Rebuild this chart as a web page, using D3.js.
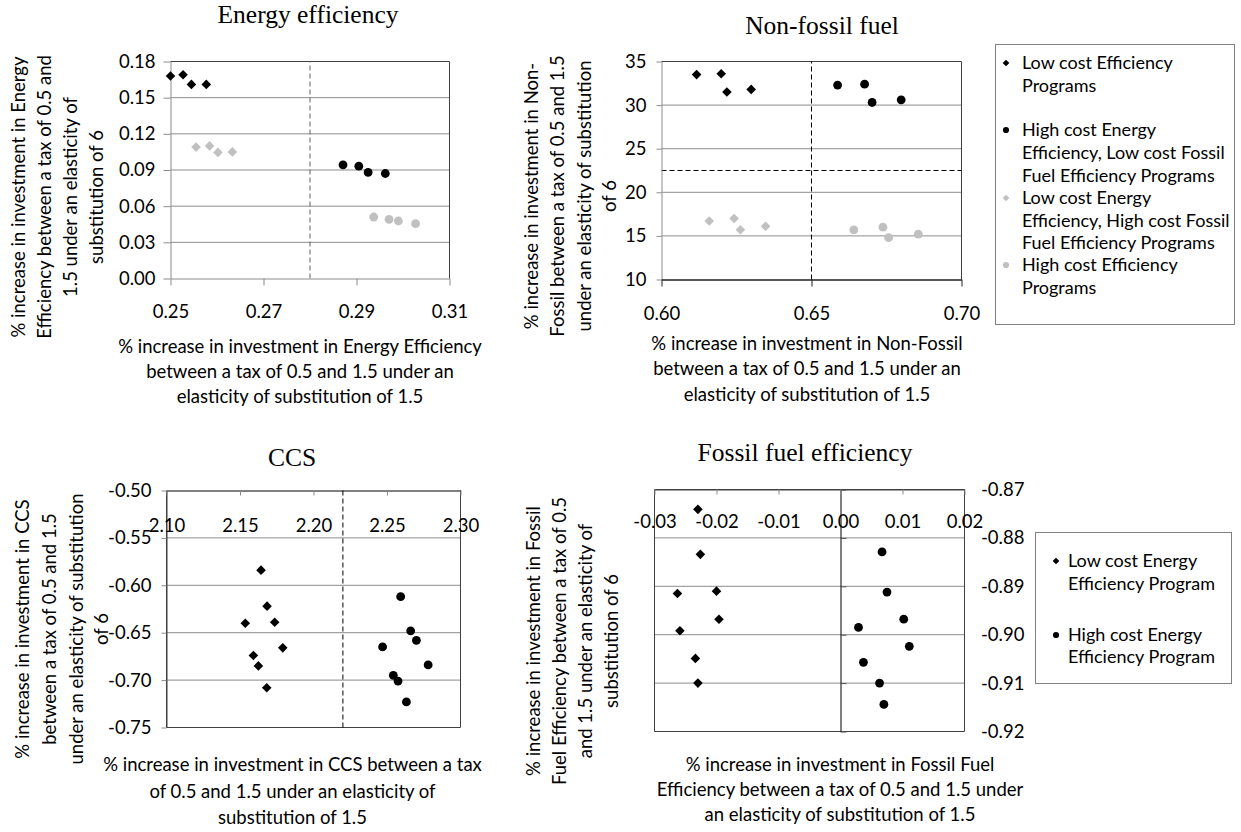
<!DOCTYPE html>
<html>
<head>
<meta charset="utf-8">
<script src="https://cdn.jsdelivr.net/npm/d3@7"></script>
<style>
  body { margin: 0; background: #fff; }
  svg text { font-family: Lato, "Open Sans", sans-serif; fill: #000; }
  svg text.title { font-family: "Liberation Serif", "Times New Roman", serif; }
</style>
</head>
<body>
<script>
// ---- Energy efficiency: [% change at elasticity 1.5, % change at elasticity 6] ----
const eeLowCost      = [[0.2500, 0.168], [0.2527, 0.169], [0.2545, 0.161], [0.2577, 0.161]];
const eeHighEELowFF  = [[0.2871, 0.0943], [0.2905, 0.0932], [0.2925, 0.0880], [0.2962, 0.0871]];
const eeLowEEHighFF  = [[0.2555, 0.109], [0.2584, 0.110], [0.2602, 0.1046], [0.2633, 0.105]];
const eeHighCost     = [[0.2937, 0.051], [0.2970, 0.049], [0.2990, 0.0477], [0.3027, 0.0455]];
const eeXTicks = [0.25, 0.27, 0.29, 0.31];
const eeYTicks = [0.00, 0.03, 0.06, 0.09, 0.12, 0.15, 0.18];
const eeDividerX = 0.28;

// ---- Non-fossil fuel ----
const nfLowCost      = [[0.6117, 33.5], [0.6199, 33.6], [0.6218, 31.5], [0.6299, 31.8]];
const nfHighEELowFF  = [[0.6587, 32.3], [0.6677, 32.4], [0.6702, 30.3], [0.6799, 30.6]];
const nfLowEEHighFF  = [[0.6159, 16.7], [0.6242, 17.0], [0.6263, 15.7], [0.6347, 16.1]];
const nfHighCost     = [[0.6641, 15.7], [0.6738, 16.0], [0.6757, 14.8], [0.6856, 15.2]];
const nfXTicks = [0.60, 0.65, 0.70];
const nfYTicks = [10, 15, 20, 25, 30, 35];
const nfDividerX = 0.65;
const nfDividerY = 22.5;

// ---- CCS ----
const ccsLowCostEE  = [[2.1643, -0.584], [2.1684, -0.622], [2.1536, -0.640], [2.1736, -0.639],
                       [2.1791, -0.666], [2.1591, -0.674], [2.1625, -0.685], [2.1682, -0.708]];
const ccsHighCostEE = [[2.2593, -0.612], [2.2661, -0.648], [2.2700, -0.658], [2.2470, -0.665],
                       [2.2780, -0.684], [2.2543, -0.695], [2.2575, -0.701], [2.2632, -0.723]];
const ccsXTicks = [2.10, 2.15, 2.20, 2.25, 2.30];
const ccsYTicks = [-0.75, -0.70, -0.65, -0.60, -0.55, -0.50];
const ccsDividerX = 2.22;

// ---- Fossil fuel efficiency ----
const ffLowCostEE  = [[-0.0230, -0.8741], [-0.0226, -0.8834], [-0.0263, -0.8915], [-0.0200, -0.8910],
                      [-0.0196, -0.8968], [-0.0259, -0.8992], [-0.0234, -0.9049], [-0.0230, -0.9100]];
const ffHighCostEE = [[0.0067, -0.8829], [0.0075, -0.8912], [0.0102, -0.8968], [0.0029, -0.8985],
                      [0.0111, -0.9024], [0.0037, -0.9057], [0.0063, -0.9100], [0.0070, -0.9144]];
const ffXTicks = [-0.03, -0.02, -0.01, 0.00, 0.01, 0.02];
const ffYTicks = [-0.92, -0.91, -0.90, -0.89, -0.88, -0.87];

// ---- legend entries ----
const legendTop = [
  { shape: "diamond", tone: "dark",  lines: ["Low cost Efficiency", "Programs"] },
  { shape: "circle",  tone: "dark",  lines: ["High cost Energy", "Efficiency, Low cost Fossil", "Fuel Efficiency Programs"] },
  { shape: "diamond", tone: "light", lines: ["Low cost Energy", "Efficiency, High cost Fossil", "Fuel Efficiency Programs"] },
  { shape: "circle",  tone: "light", lines: ["High cost Efficiency", "Programs"] }
];
const legendBottom = [
  { shape: "diamond", tone: "dark", lines: ["Low cost Energy", "Efficiency Program"] },
  { shape: "circle",  tone: "dark", lines: ["High cost Energy", "Efficiency Program"] }
];

// ---------------------------------------------------------------------------
const DARK = "#000000", LIGHT = "#c0c0c0", GRID = "#8c8c8c", FRAME = "#404040";
const FS = 18.5;
const fmt = d3.formatLocale({ decimal: ".", thousands: ",", grouping: [3], currency: ["", ""], minus: "-" });
const f2 = fmt.format(".2f"), f0 = fmt.format("d");

const svg = d3.select("body").append("svg").attr("width", 1241).attr("height", 832);

function marks(g, data, x, y, shape, color, k = 1) {
  if (shape === "diamond") {
    g.selectAll(null).data(data).join("path")
      .attr("d", d3.symbol(d3.symbolSquare, 46 * k * k)())
      .attr("transform", d => `translate(${x(d[0])},${y(d[1])}) rotate(45)`)
      .attr("fill", color);
  } else {
    g.selectAll(null).data(data).join("circle")
      .attr("cx", d => x(d[0])).attr("cy", d => y(d[1]))
      .attr("r", 4.4 * k).attr("fill", color);
  }
}

function hGrid(g, ticks, x, y, color) {
  g.selectAll(null).data(ticks).join("line")
    .attr("x1", x.range()[0]).attr("x2", x.range()[1])
    .attr("y1", d => y(d)).attr("y2", d => y(d))
    .attr("stroke", color).attr("stroke-width", 1);
}

function styleAxis(sel, tickColor, domainColor) {
  sel.attr("font-family", null).attr("font-size", FS);
  sel.select(".domain").attr("stroke", domainColor);
  sel.selectAll(".tick line").attr("stroke", tickColor);
  sel.selectAll(".tick text").attr("fill", "#000");
}

function title(text, cx, baseline) {
  svg.append("text").attr("class", "title").attr("x", cx).attr("y", baseline)
    .attr("text-anchor", "middle").attr("font-size", 25.5).text(text);
}

function xLabel(lines, cx, ys) {
  svg.append("g").selectAll(null).data(lines).join("text")
    .attr("x", cx).attr("y", (d, i) => ys[i]).attr("dy", "0.35em")
    .attr("text-anchor", "middle").attr("font-size", FS).text(d => d);
}

function yLabel(lines, xs, cy) {
  const g = svg.append("g").attr("transform", `translate(${xs[0]},${cy}) rotate(-90)`);
  g.selectAll(null).data(lines).join("text")
    .attr("x", 0).attr("y", (d, i) => xs[i] - xs[0]).attr("dy", "0.35em")
    .attr("text-anchor", "middle").attr("font-size", FS).text(d => d);
}

function frameSides(g, x, y, sides, color, width = 1) {
  const [x0, x1] = x.range(), [y0, y1] = y.range();
  const seg = { top: [x0, y1, x1, y1], bottom: [x0, y0, x1, y0], left: [x0, y0, x0, y1], right: [x1, y0, x1, y1] };
  sides.forEach(s => g.append("line").attr("x1", seg[s][0]).attr("y1", seg[s][1])
    .attr("x2", seg[s][2]).attr("y2", seg[s][3]).attr("stroke", color).attr("stroke-width", width));
}

// ============ Energy efficiency ============
{
  const x = d3.scaleLinear().domain([0.25, 0.31]).range([170.5, 449.5]);
  const y = d3.scaleLinear().domain([0, 0.18]).range([278.5, 61.5]);
  const g = svg.append("g");
  hGrid(g, eeYTicks.slice(1, -1), x, y, GRID);
  frameSides(g, x, y, ["top", "right"], FRAME);
  g.append("line").attr("x1", x(eeDividerX)).attr("x2", x(eeDividerX))
    .attr("y1", y.range()[0]).attr("y2", y.range()[1])
    .attr("stroke", "#606060").attr("stroke-dasharray", "5,3");
  const ax = g.append("g").attr("transform", `translate(0,${y.range()[0]})`)
    .call(d3.axisBottom(x).tickValues(eeXTicks).tickFormat(f2).tickSize(7).tickSizeOuter(0));
  styleAxis(ax, GRID, GRID);
  ax.selectAll(".tick text").attr("y", 33.5).attr("dy", "0.35em");
  const ay = g.append("g").attr("transform", `translate(${x.range()[0]},0)`)
    .call(d3.axisLeft(y).tickValues(eeYTicks).tickFormat(f2).tickSize(7).tickSizeOuter(0).tickPadding(8));
  styleAxis(ay, GRID, GRID);
  marks(g, eeLowEEHighFF, x, y, "diamond", LIGHT);
  marks(g, eeHighCost, x, y, "circle", LIGHT);
  marks(g, eeLowCost, x, y, "diamond", DARK);
  marks(g, eeHighEELowFF, x, y, "circle", DARK);
  title("Energy efficiency", 308, 23);
  yLabel(["% increase in investment in Energy", "Efficiency between a tax of 0.5 and",
          "1.5 under an elasticity of", "substitution of 6"], [18.5, 44.5, 70.5, 96.5], 197);
  xLabel(["% increase in investment in Energy Efficiency", "between a tax of 0.5 and 1.5 under an",
          "elasticity of substitution of 1.5"], 300, [346.5, 371.5, 396.5]);
}

// ============ Non-fossil fuel ============
{
  const x = d3.scaleLinear().domain([0.60, 0.70]).range([661.5, 961.5]);
  const y = d3.scaleLinear().domain([10, 35]).range([279.5, 61.5]);
  const g = svg.append("g");
  hGrid(g, nfYTicks.slice(1, -1), x, y, GRID);
  frameSides(g, x, y, ["top", "right"], FRAME);
  g.append("line").attr("x1", x(nfDividerX)).attr("x2", x(nfDividerX))
    .attr("y1", y.range()[0]).attr("y2", y.range()[1])
    .attr("stroke", "#000").attr("stroke-dasharray", "5,3");
  g.append("line").attr("x1", x.range()[0]).attr("x2", x.range()[1])
    .attr("y1", y(nfDividerY)).attr("y2", y(nfDividerY))
    .attr("stroke", "#000").attr("stroke-dasharray", "5,3");
  const ay = g.append("g").attr("transform", `translate(${x.range()[0]},0)`)
    .call(d3.axisLeft(y).tickValues(nfYTicks).tickFormat(f0).tickSize(5).tickSizeOuter(0).tickPadding(10));
  styleAxis(ay, GRID, GRID);
  const ax = g.append("g").attr("transform", `translate(0,${y.range()[0]})`)
    .call(d3.axisBottom(x).tickValues(nfXTicks).tickFormat(f2).tickSize(7).tickSizeOuter(0));
  styleAxis(ax, "#202020", "#202020");
  ax.select(".domain").attr("stroke-width", 1.6);
  ax.selectAll(".tick text").attr("y", 34).attr("dy", "0.35em");
  marks(g, nfLowEEHighFF, x, y, "diamond", LIGHT);
  marks(g, nfHighCost, x, y, "circle", LIGHT);
  marks(g, nfLowCost, x, y, "diamond", DARK);
  marks(g, nfHighEELowFF, x, y, "circle", DARK);
  title("Non-fossil fuel", 822, 34);
  yLabel(["% increase in investment in Non-", "Fossil between a tax of 0.5 and 1.5",
          "under an elasticity of substitution", "of 6"], [531.5, 558, 585, 610], 196);
  xLabel(["% increase in investment in Non-Fossil", "between a tax of 0.5 and 1.5 under an",
          "elasticity of substitution of 1.5"], 807, [343.5, 369, 395]);
}

// ============ CCS ============
{
  const x = d3.scaleLinear().domain([2.10, 2.30]).range([166.5, 460.5]);
  const y = d3.scaleLinear().domain([-0.75, -0.50]).range([727.5, 490.5]);
  const g = svg.append("g");
  hGrid(g, ccsYTicks.slice(1, -1), x, y, GRID);
  frameSides(g, x, y, ["right", "bottom", "left"], FRAME);
  g.append("line").attr("x1", x(ccsDividerX)).attr("x2", x(ccsDividerX))
    .attr("y1", y.range()[0]).attr("y2", y.range()[1])
    .attr("stroke", "#000").attr("stroke-dasharray", "5,3");
  const ay = g.append("g").attr("transform", `translate(${x.range()[0]},0)`)
    .call(d3.axisLeft(y).tickValues(ccsYTicks).tickFormat(f2).tickSize(5).tickSizeOuter(0).tickPadding(10));
  styleAxis(ay, GRID, FRAME);
  const ax = g.append("g").attr("transform", `translate(0,${y.range()[1]})`)
    .call(d3.axisBottom(x).tickValues(ccsXTicks).tickFormat(f2).tickSize(5).tickSizeOuter(0));
  styleAxis(ax, GRID, "#000");
  ax.selectAll(".tick text").attr("y", 35.5).attr("dy", "0.35em");
  marks(g, ccsLowCostEE, x, y, "diamond", DARK);
  marks(g, ccsHighCostEE, x, y, "circle", DARK);
  title("CCS", 292, 466);
  yLabel(["% increase in investment in CCS", "between a tax of 0.5 and 1.5",
          "under an elasticity of substitution", "of 6"], [23, 50, 77, 102], 629);
  xLabel(["% increase in investment in CCS between a tax", "of 0.5 and 1.5 under an elasticity of",
          "substitution of 1.5"], 292.5, [765, 791.5, 818]);
}

// ============ Fossil fuel efficiency ============
{
  const x = d3.scaleLinear().domain([-0.03, 0.02]).range([654.5, 964.5]);
  const y = d3.scaleLinear().domain([-0.92, -0.87]).range([731.5, 489.5]);
  const g = svg.append("g");
  hGrid(g, ffYTicks.slice(1, -1), x, y, GRID);
  frameSides(g, x, y, ["top", "right", "bottom", "left"], FRAME);
  const ay = g.append("g").attr("transform", `translate(${x(0)},0)`)
    .call(d3.axisRight(y).tickValues(ffYTicks).tickFormat(f2).tickSize(6).tickSizeOuter(0));
  styleAxis(ay, "#555", "#000");
  ay.selectAll(".tick text").attr("x", 981 - x(0)).attr("text-anchor", "start");
  const ax = g.append("g").attr("transform", `translate(0,${y.range()[1]})`)
    .call(d3.axisBottom(x).tickValues(ffXTicks).tickFormat(f2).tickSize(5).tickSizeOuter(0));
  styleAxis(ax, GRID, FRAME);
  ax.selectAll(".tick text").attr("y", 32).attr("dy", "0.35em");
  marks(g, ffLowCostEE, x, y, "diamond", DARK);
  marks(g, ffHighCostEE, x, y, "circle", DARK);
  title("Fossil fuel efficiency", 805, 461);
  yLabel(["% increase in investment in Fossil", "Fuel Efficiency between a tax of 0.5",
          "and 1.5 under an elasticity of", "substitution of 6"], [533.5, 559.5, 586, 611.5], 641);
  xLabel(["% increase in investment in Fossil Fuel", "Efficiency between a tax of 0.5 and 1.5 under",
          "an elasticity of substitution of 1.5"], 840, [765, 790, 815]);
}

// ============ Legends ============
function legend(items, box, markerX, textX, rows) {
  const g = svg.append("g");
  g.append("rect").attr("x", box[0]).attr("y", box[1]).attr("width", box[2]).attr("height", box[3])
    .attr("fill", "none").attr("stroke", "#7f7f7f");
  const ident = d3.scaleLinear();
  items.forEach((it, i) => {
    const color = it.tone === "dark" ? DARK : LIGHT;
    marks(g, [[markerX, rows[i][0]]], ident, ident, it.shape, color, 0.7);
    g.selectAll(null).data(it.lines).join("text")
      .attr("x", textX).attr("y", (d, j) => rows[i][j]).attr("dy", "0.35em")
      .attr("font-size", 18).text(d => d);
  });
}
legend(legendTop, [995.5, 44.5, 239, 280], 1006, 1022,
  [[63, 85.5], [130, 153, 175.5], [198, 220.5, 243], [265, 287.5]]);
legend(legendBottom, [1035.5, 532.5, 196, 151], 1056, 1068,
  [[561, 583.5], [635, 657]]);
</script>
</body>
</html>
